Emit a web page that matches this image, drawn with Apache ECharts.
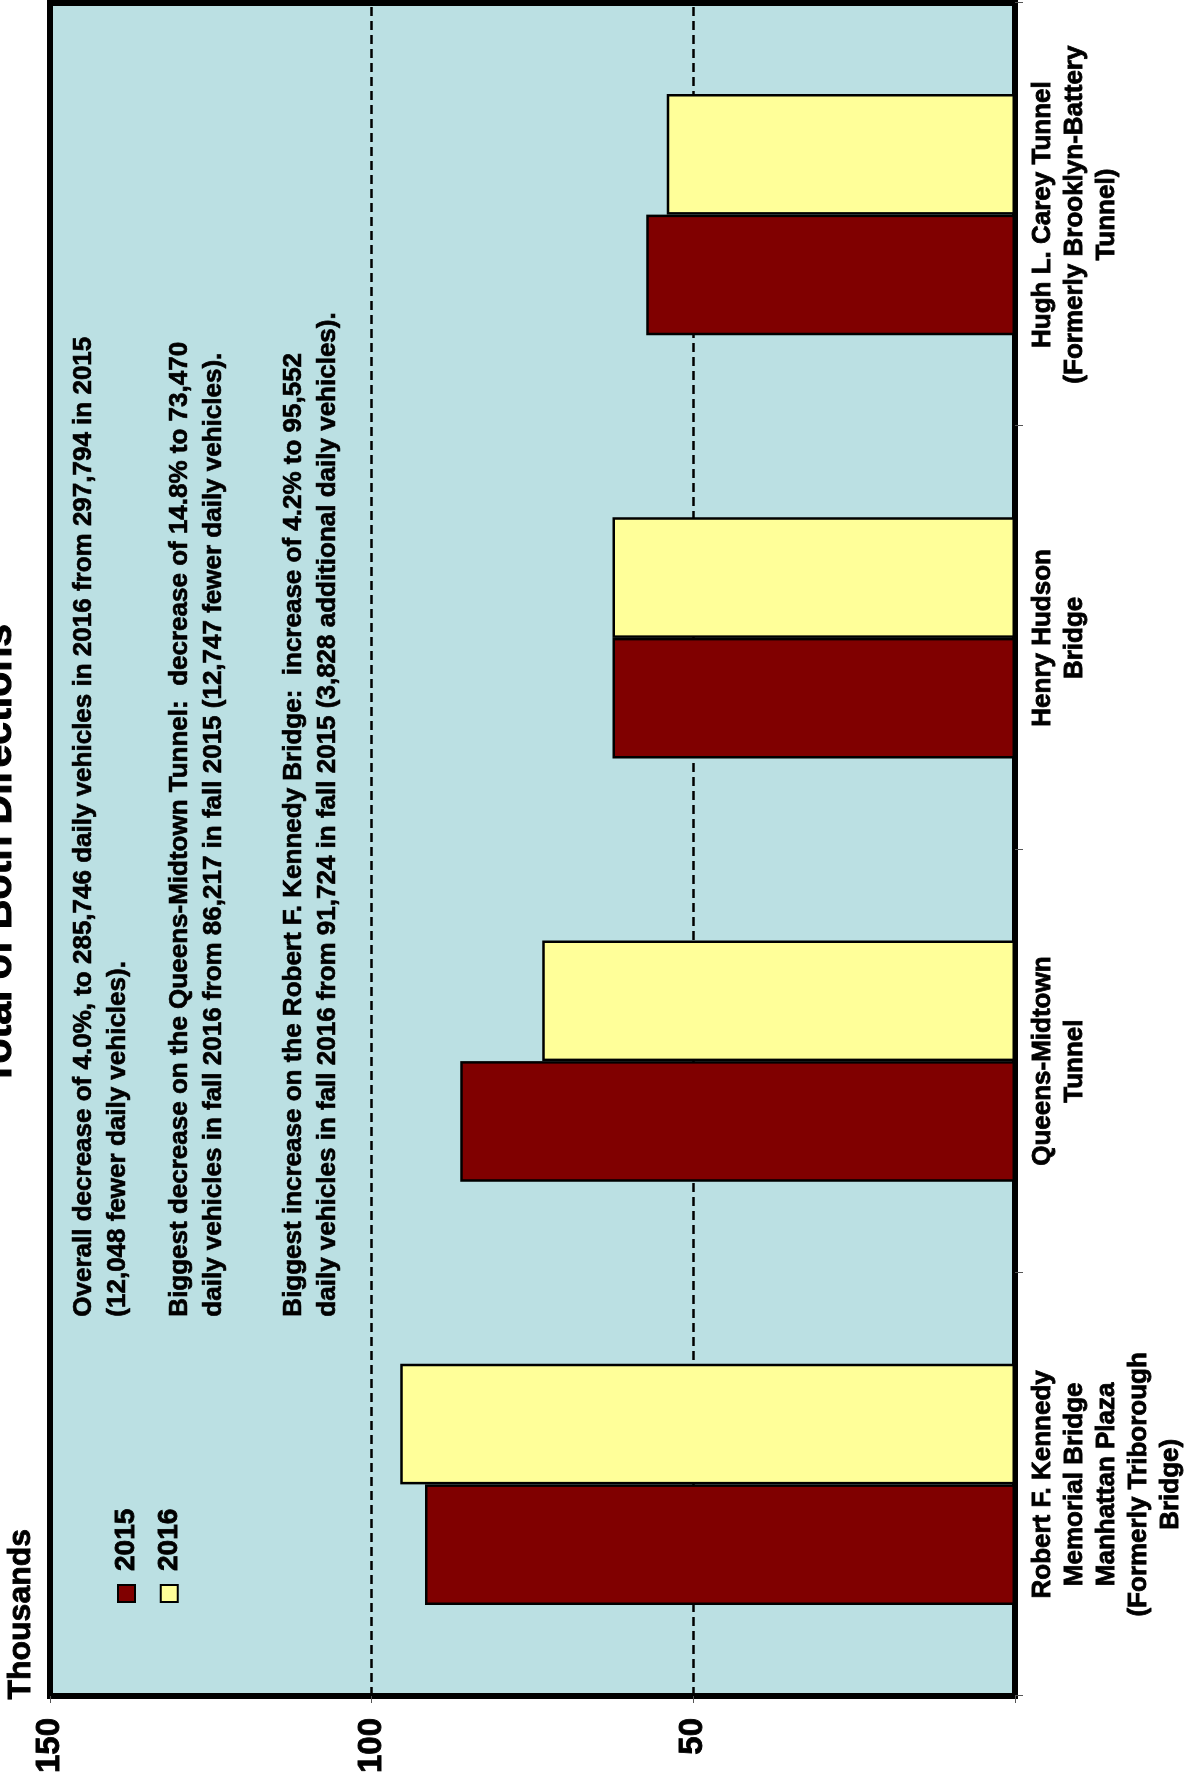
<!DOCTYPE html>
<html>
<head>
<meta charset="utf-8">
<script src="https://cdn.jsdelivr.net/npm/echarts@6/dist/echarts.min.js"></script>
<style>
  html, body { margin: 0; padding: 0; background: #fff; width: 1191px; height: 1782px; overflow: hidden; }
  #chart {
    position: absolute; left: 0; top: 0;
    width: 1782px; height: 1191px;
    transform-origin: 0 0;
    transform: translateY(1782px) rotate(-90deg);
  }
</style>
</head>
<body>
<div id="chart"></div>
<script>
// ---- data (thousands of daily vehicles, both directions) ----
const categories = [
  "Robert F. Kennedy\nMemorial Bridge\nManhattan Plaza\n(Formerly Triborough\nBridge)",
  "Queens-Midtown\nTunnel",
  "Henry Hudson\nBridge",
  "Hugh L. Carey Tunnel\n(Formerly Brooklyn-Battery\nTunnel)"
];
const seriesNames = ["2015", "2016"];
const values2015 = [91.724, 86.217, 62.553, 57.3];
const values2016 = [95.552, 73.47, 62.574, 54.15];
const titleText = "Total of Both Directions";
const unitText = "Thousands";
const notes = [
  "Overall decrease of 4.0%, to 285,746 daily vehicles in 2016 from 297,794 in 2015\n(12,048 fewer daily vehicles).",
  "Biggest decrease on the Queens-Midtown Tunnel:  decrease of 14.8% to 73,470\ndaily vehicles in fall 2016 from 86,217 in fall 2015 (12,747 fewer daily vehicles).",
  "Biggest increase on the Robert F. Kennedy Bridge:  increase of 4.2% to 95,552\ndaily vehicles in fall 2016 from 91,724 in fall 2015 (3,828 additional daily vehicles)."
];
const noteTops = [67, 163, 277];

const FONT = "'Liberation Sans', Arial, Helvetica, sans-serif";
const BOLDEN = { textBorderColor: '#000', textBorderWidth: 0.8 };
const chart = echarts.init(document.getElementById('chart'), null, { renderer: 'canvas', width: 1782, height: 1191 });

const graphics = [
  { type: 'text', left: 936 - 240, top: -21, z: 10,
    style: { text: titleText, font: "bold 41px " + FONT, fill: '#000', stroke: '#000', lineWidth: 1 } },
  { type: 'text', left: 82, top: 5, z: 10,
    style: { text: unitText, font: "bold 32px " + FONT, fill: '#000', stroke: '#000', lineWidth: 0.8 } }
];
notes.forEach((t, i) => {
  graphics.push({ type: 'text', left: 465, top: noteTops[i], z: 10,
    style: { text: t, font: "bold 26px " + FONT, fill: '#000', lineHeight: 34, stroke: '#000', lineWidth: 0.7 } });
});

chart.setOption({
  animation: false,
  backgroundColor: '#ffffff',
  textStyle: { fontFamily: FONT, fontWeight: 'bold', color: '#000' },
  grid: {
    left: 86, right: 3, top: 50, bottom: 176,
    show: true, backgroundColor: '#BBE0E3', borderColor: '#000', borderWidth: 6
  },
  legend: {
    orient: 'vertical', left: 179, top: 112, padding: 0,
    itemWidth: 17, itemHeight: 17, itemGap: 14,
    icon: 'rect',
    data: seriesNames,
    textStyle: Object.assign({ fontFamily: FONT, fontSize: 28, fontWeight: 'bold', color: '#000', padding: [0, 0, 0, 9] }, BOLDEN)
  },
  xAxis: {
    type: 'category',
    data: categories,
    axisLine: { show: true, lineStyle: { color: '#000', width: 6 } },
    axisTick: { show: true, length: 8, lineStyle: { color: '#555', width: 1 } },
    axisLabel: Object.assign({ interval: 0, fontFamily: FONT, fontSize: 26, fontWeight: 'bold', color: '#000', lineHeight: 32, margin: 12, align: 'center' }, BOLDEN),
    splitLine: { show: false }
  },
  yAxis: {
    type: 'value', min: 0, max: 150, interval: 50,
    axisLine: { show: false },
    axisTick: { show: true, length: 7, lineStyle: { color: '#555', width: 1 } },
    axisLabel: Object.assign({
      fontFamily: FONT, fontSize: 33, fontWeight: 'bold', color: '#000', margin: 22,
      formatter: v => (v === 0 ? '' : String(v))
    }, BOLDEN),
    splitLine: { show: true, lineStyle: { color: '#000', type: [9, 5], width: 2.5 } }
  },
  series: [
    { name: seriesNames[0], type: 'bar', data: values2015, barGap: '0%', barCategoryGap: '43%',
      itemStyle: { color: '#800000', borderColor: '#000', borderWidth: 2.5 } },
    { name: seriesNames[1], type: 'bar', data: values2016, barGap: '0%', barCategoryGap: '43%',
      itemStyle: { color: '#FFFF99', borderColor: '#000', borderWidth: 2.5 } }
  ],
  graphic: graphics
});
</script>
</body>
</html>
